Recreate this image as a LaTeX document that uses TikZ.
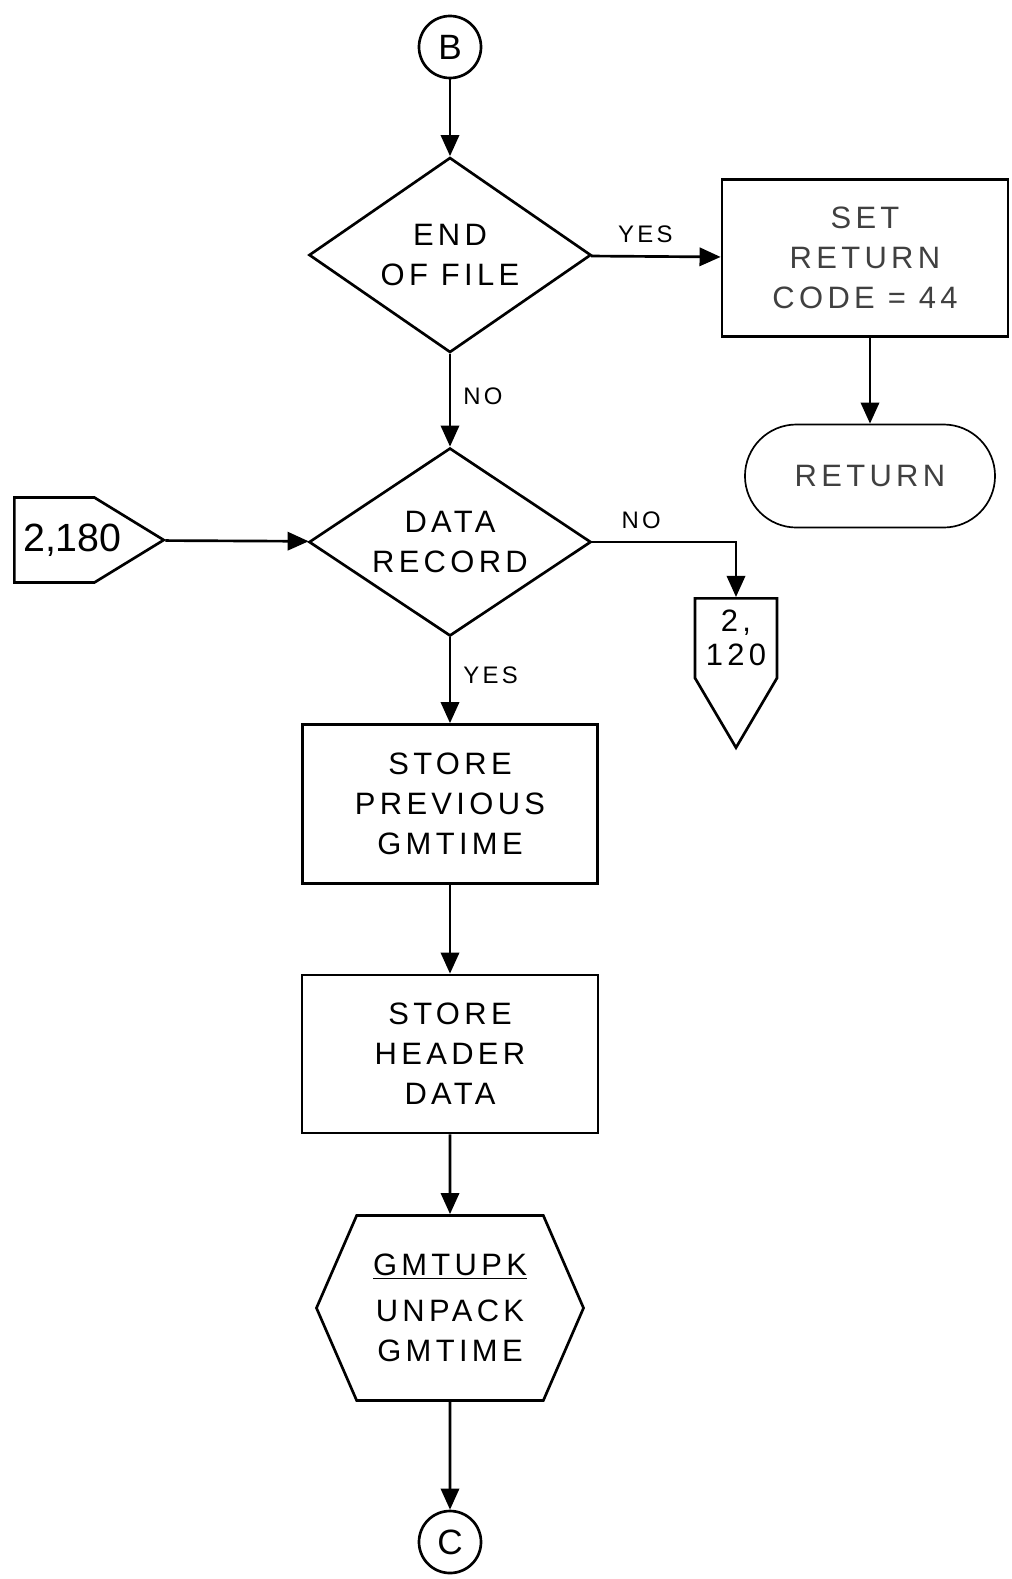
\documentclass[tikz,border=0pt]{standalone}
\usepackage{fontspec}
\setmainfont{Liberation Sans}[LetterSpace=14]
\newfontfamily\numfont{Liberation Sans}
\usetikzlibrary{shapes.geometric,shapes.misc,shapes.symbols,arrows.meta}

\tikzset{
  flow/.style={line width=1.9pt,-{Triangle[length=15pt,width=13pt]}},
  txt/.style={align=center,inner sep=0pt,font=\fontsize{22}{28.5}\selectfont},
  box/.style={txt,draw,line width=1.9pt,rectangle},
  decide/.style={txt,draw,line width=1.9pt,diamond,shape aspect=1.5},
  conn/.style={txt,draw,line width=1.9pt,circle,minimum size=1.55cm,font=\fontsize{25}{28}\selectfont},
  offpage/.style={txt,draw,line width=1.9pt,signal},
  lbl/.style={font=\fontsize{17}{19}\selectfont,inner sep=0pt}
}

\begin{document}
\begin{tikzpicture}[x=0.025cm,y=-0.025cm]
  \useasboundingbox (0,0) rectangle (1012,1579);

  % main column
  \node[conn] (B) at (450,47) {B};
  \node[decide,minimum width=7.05cm,minimum height=4.875cm] (eof) at (450,255) {END\\OF FILE};
  \node[decide,minimum width=7.05cm,minimum height=4.7cm] (datarec) at (450,542) {DATA\\RECORD};
  \node[box,minimum width=7.375cm,minimum height=3.975cm] (store1) at (450,804) {STORE\\PREVIOUS\\GMTIME};
  \node[box,minimum width=7.4cm,minimum height=3.95cm] (store2) at (450,1054) {STORE\\HEADER\\DATA};
  \node[offpage,signal to=east and west,signal pointer angle=133,
        minimum width=6.675cm,minimum height=4.625cm] (hex) at (450,1308)
        {\underline{GMTUPK}\\[4pt]UNPACK\\GMTIME};
  \node[conn] (C) at (450,1542) {C};

  % end of file branch
  \node[box,text=black!75,minimum width=7.15cm,minimum height=3.925cm] (ret) at (865,258) {SET\\RETURN\\CODE = 44};
  \node[txt,draw,line width=1.2pt,rounded rectangle,text=black!75,
        minimum width=6.25cm,minimum height=2.575cm] (rtn) at (870,476) {RETURN};

  % off-page connectors
  \node[offpage,signal to=east,signal pointer angle=63,
        minimum height=2.125cm,anchor=west] (p180) at (13,540)
        {\makebox[2cm][l]{\hspace{0.22cm}\numfont\fontsize{28}{30}\selectfont 2,180}};
  \node[offpage,signal to=south,signal pointer angle=61,inner ysep=0.3cm,
        font=\fontsize{22}{24}\selectfont,
        minimum width=2.05cm,anchor=north] (p120) at (736,597) {2,\\120};

  % connectors
  \foreach \a/\b in {B/eof, store1/store2, store2/hex, hex/C}
    \draw[flow] (\a) -- (\b);
  \draw[flow] (eof) -- node[lbl,anchor=south,pos=0.42,yshift=0.3cm] {YES} (ret);
  \draw[flow] (eof) -- node[lbl,anchor=west,pos=0.46,xshift=0.3cm] {NO} (datarec);
  \draw[flow] (ret.south -| rtn.north) -- (rtn.north);
  \draw[flow] (p180) -- (datarec);
  \draw[flow] (datarec.east) -| node[lbl,anchor=south,pos=0.17,yshift=0.3cm] {NO} (p120.north);
  \draw[flow] (datarec) -- node[lbl,anchor=west,pos=0.44,xshift=0.3cm] {YES} (store1);
\end{tikzpicture}
\end{document}
